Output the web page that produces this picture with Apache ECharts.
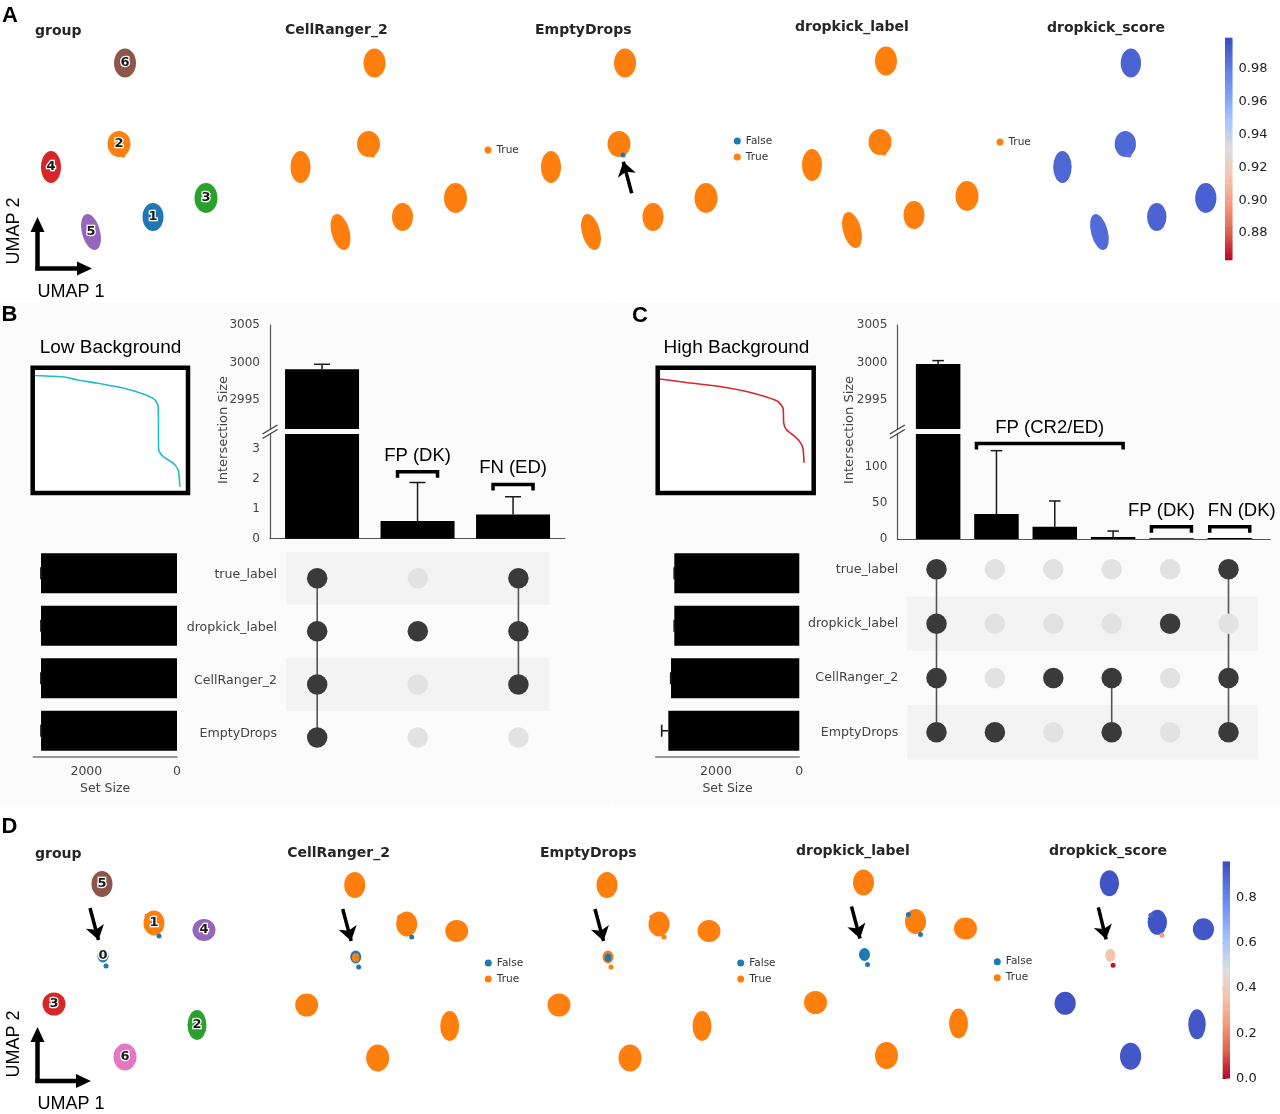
<!DOCTYPE html>
<html><head><meta charset="utf-8">
<script src="https://cdn.jsdelivr.net/npm/echarts@6/dist/echarts.min.js"></script>
<style>html,body{margin:0;padding:0;background:#fff}#c{width:1280px;height:1114px}</style>
</head><body><div id="c"></div><script>
// ================= DATA =================
// ---- Panel A : UMAP clusters (centres and spread, UMAP units) ----
const clustersA = ['1','2','3','4','5','6'];
const umap1A   = [12.3, 8.9, 17.6, 2.1, 6.1, 9.5];
const umap2A   = [4.3, 11.6, 6.2, 9.3, 2.8, 19.7];
const spread1A = [2.1, 2.3, 2.3, 2.0, 1.8, 2.2];
const spread2A = [2.8, 2.6, 3.0, 3.2, 3.7, 2.9];
const tiltA    = [0, 0, 0, 0, 15, 0];
const trueFracCR2A = [1, 1, 1, 1, 1, 1];
const trueFracEDA  = [1, 1, 1, 1, 1, 1];
const trueFracDKA  = [1, 1, 1, 1, 1, 1];
const scoreA       = [0.990, 0.988, 0.991, 0.989, 0.987, 0.990];
const cellU1A = [9.3];
const cellU2A = [10.5];
const cellGroupA = [1];
const cellCR2A = [true];
const cellEDA  = [false];
const cellDKA  = [true];
const cellScoreA = [0.985];
const scoreRangeA = [0.8636, 0.9988];
const scoreTicksA = [0.88, 0.90, 0.92, 0.94, 0.96, 0.98];

// ---- Panel D ----
const clustersD = ['0','1','2','3','4','5','6'];
const umap1D   = [7.3, 12.4, 16.7, 2.4, 17.4, 7.2, 9.5];
const umap2D   = [12.7, 16.0, 5.8, 7.9, 15.3, 19.9, 2.6];
const spread1D = [1.1, 2.1, 1.9, 2.3, 2.3, 2.1, 2.3];
const spread2D = [1.3, 2.5, 3.0, 2.3, 2.2, 2.6, 2.7];
const tiltD    = [0, 0, 0, 0, 0, 0, 0];
const trueFracCR2D = [0.45, 1, 1, 1, 1, 1, 1];
const trueFracEDD  = [0.6, 1, 1, 1, 1, 1, 1];
const trueFracDKD  = [0, 1, 1, 1, 1, 1, 1];
const scoreD       = [0.36, 0.94, 0.93, 0.94, 0.93, 0.94, 0.93];
const cellU1D = [7.6, 12.9, 11.7];
const cellU2D = [11.7, 14.7, 16.7];
const cellGroupD = [0, 0, 1];
const cellCR2D = [false, false, true];
const cellEDD  = [true, true, true];
const cellDKD  = [false, false, false];
const cellScoreD = [0.02, 0.25, 0.9];
const scoreRangeD = [0, 0.96];
const scoreTicksD = [0.0, 0.2, 0.4, 0.6, 0.8];

// ---- Panels B / C : UpSet ----
const setNames = ['true_label', 'dropkick_label', 'CellRanger_2', 'EmptyDrops'];
const setSizeTicks = [0, 2000];
const interTicksUpper = [2995, 3000, 3005];
const setSizeLow = [3000, 2999.7, 3000, 2999.1];
const setErrLow  = [3, 3, 3, 3];
const interLow   = [2999.1, 0.59, 0.81];
const interErrLow = [0.65, 1.28, 0.59];
const membersLow = [[1,1,1,1],[0,1,0,0],[1,1,1,0]];
const interTicksLowLower = [0, 1, 2, 3];
const annotLowText = ['FP (DK)', 'FN (ED)'];
const annotLowFrom = [1, 2];
const annotLowTo   = [1, 2];
const annotLowY    = [2.23, 1.81];
const kneeLowX = [1.3, 20.6, 28.2, 41.1, 58.3, 71.2, 78.7, 80.8, 81.1, 84.1, 90.5, 93.7, 94.8];
const kneeLowY = [93.8, 92.6, 90.4, 87.8, 83.8, 79.0, 74.4, 69.0, 34.4, 29.0, 23.8, 18.4, 5.0];
const setSizeHigh = [3001, 3001, 3080, 3145];
const setErrHigh  = [4, 4, 8, 159];
const interHigh   = [2999.8, 34.5, 17, 2.8, 1.0, 1.5];
const interErrHigh = [0.44, 87.5, 35.5, 8.2, 0, 0];
const membersHigh = [[1,1,1,1],[0,0,0,1],[0,0,1,0],[0,0,1,1],[0,1,0,0],[1,0,1,1]];
const interTicksHighLower = [0, 50, 100];
const annotHighText = ['FP (CR2/ED)', 'FP (DK)', 'FN (DK)'];
const annotHighFrom = [1, 4, 5];
const annotHighTo   = [3, 4, 5];
const annotHighY    = [132, 17, 17];
const kneeHighX = [1.3, 18.4, 39.7, 56.9, 69.7, 77.1, 80.3, 80.8, 82.5, 86.7, 91.0, 93.1, 93.8];
const kneeHighY = [91.0, 88.2, 85.0, 81.0, 76.6, 73.0, 67.8, 55.8, 50.4, 46.4, 41.0, 35.8, 24.2];

// ================= STYLE HELPERS =================
const TAB10 = ['#1f77b4','#ff7f0e','#2ca02c','#d62728','#9467bd','#8c564b','#e377c2','#7f7f7f','#bcbd22','#17becf'];
const ORANGE = '#ff7f0e', BLUE = '#1f77b4';
const MPL = 'DejaVu Sans', ARIAL = 'Liberation Sans';
const CW = [[0,[59,76,192]],[0.125,[90,122,227]],[0.25,[124,159,249]],[0.375,[170,199,253]],[0.5,[221,221,221]],[0.625,[245,196,173]],[0.75,[244,154,123]],[0.875,[222,96,77]],[1,[180,4,38]]];
function coolwarm(t){
  t = Math.max(0, Math.min(1, t));
  for (let i = 1; i < CW.length; i++) {
    if (t <= CW[i][0]) {
      const a = CW[i-1], b = CW[i], f = (t - a[0]) / (b[0] - a[0]);
      const c = a[1].map((v,k)=>Math.round(v + (b[1][k]-v)*f));
      return 'rgb(' + c.join(',') + ')';
    }
  }
  return 'rgb(180,4,38)';
}
function scoreColor(v, range){ return coolwarm(1 - (v - range[0]) / (range[1] - range[0])); }
const plain = v => String(Math.round(Number(v)));

const grid = [], xAxis = [], yAxis = [], series = [], legend = [], graphic = [];
function addGrid(box, xa, ya, extra){
  const gi = grid.length;
  grid.push(Object.assign({left:box.left, top:box.top, width:box.width, height:box.height, containLabel:false, outerBoundsMode:'none', show:false}, extra || {}));
  xAxis.push(Object.assign({gridIndex:gi, show:false, type:'value'}, xa));
  yAxis.push(Object.assign({gridIndex:gi, show:false, type:'value'}, ya));
  return gi;
}
function gtext(x, y, text, o){
  o = o || {};
  const al = o.align || 'left', va = o.va || 'middle';
  graphic.push({type:'text', x, y, rotation:o.rot || 0, silent:true, z:o.z || 20,
    style:{text, fill:o.color || '#000', fontSize:o.size || 13, fontWeight:o.weight || 'normal', fontFamily:o.family || MPL,
      align:al, textAlign:al, verticalAlign:va, textVerticalAlign:va}});
}
function gline(x1,y1,x2,y2,color,w){ graphic.push({type:'line', silent:true, z:20, shape:{x1,y1,x2,y2}, style:{stroke:color, lineWidth:w}}); }
function gpoly(points, color){ graphic.push({type:'polygon', silent:true, z:20, shape:{points}, style:{fill:color}}); }
function grect(x,y,w,h,color,z){ graphic.push({type:'rect', silent:true, z:z, shape:{x,y,width:w,height:h}, style:{fill:color}}); }
const axBase = {show:true, axisLine:{show:true, onZero:false, lineStyle:{color:'#555', width:1.2}}, axisTick:{show:false}, splitLine:{show:false}, axisLabel:{show:false}};

grect(0, 303, 612, 503, '#fbfbfb', 0);
grect(613, 303, 667, 503, '#fbfbfb', 0);

// ================= UMAP ROWS =================
function blobSeries(gi, items){
  return {type:'custom', xAxisIndex:gi, yAxisIndex:gi, z:6, silent:true,
    data: items.map(it => [it.x, it.y, it.sx, it.sy]),
    renderItem(params, api){
      const it = items[params.dataIndex];
      const c = api.coord([api.value(0), api.value(1)]);
      const s = api.size([api.value(2), api.value(3)]);
      const rx = s[0]/2, ry = s[1]/2;
      const rot = (it.rot || 0) * Math.PI / 180;
      const ch = [{type:'circle', x:c[0], y:c[1], rotation:rot, scaleX:rx/ry, shape:{cx:0, cy:0, r:ry}, style:{fill:it.color, stroke:null}}];
      if (it.minor) {
        const k = Math.sqrt(it.minorFrac);
        ch.push({type:'circle', x:c[0], y:c[1] + ry*0.1, scaleX:rx/ry, shape:{cx:0, cy:0, r:ry*k}, style:{fill:it.minor, stroke:null}});
      }
      if (it.label != null) {
        ch.push({type:'text', x:c[0], y:c[1], style:{text:it.label, align:'center', textAlign:'center', verticalAlign:'middle', textVerticalAlign:'middle',
          fontSize:13, fontWeight:'bold', fontFamily:MPL, fill:'#1a1a1a', stroke:'#fff', lineWidth:2.5}});
      }
      return {type:'group', children:ch};
    }};
}
function buildUmapRow(R, panels, cbar){
  panels.forEach(p => {
    const gi = addGrid({left:p.left, top:p.top, width:p.w, height:220}, {min:0, max:20}, {min:0, max:22});
    gtext(p.left + p.tdx, p.ty, p.title, {size:14, weight:'bold', color:'#262626'});
    const items = R.clusters.map((c, i) => {
      const it = {x:R.u1[i], y:R.u2[i], sx:R.s1[i], sy:R.s2[i], rot:R.tilt[i]};
      if (p.kind === 'group') { it.color = TAB10[i]; it.label = c; }
      else if (p.kind === 'score') { it.color = scoreColor(p.score[i], R.range); }
      else {
        const f = p.frac[i];
        it.color = f >= 0.5 ? ORANGE : BLUE;
        const mf = f >= 0.5 ? 1 - f : f;
        if (mf > 0) { it.minor = f >= 0.5 ? BLUE : ORANGE; it.minorFrac = mf; }
      }
      return it;
    });
    series.push(blobSeries(gi, items));
    if (p.kind === 'label') {
      [['False', false, BLUE], ['True', true, ORANGE]].forEach(([nm, flag, col]) => {
        series.push({type:'scatter', name:nm, xAxisIndex:gi, yAxisIndex:gi, z:7, symbol:'circle', symbolSize:5, silent:true,
          itemStyle:{color:col, opacity:1},
          data: R.cellU1.map((x, j) => p.cellLab[j] === flag ? [x, R.cellU2[j]] : null).filter(Boolean)});
      });
      legend.push({left:p.lx, top:p.ly, orient:'vertical', data:p.legend, icon:'circle', itemWidth:7, itemHeight:7, itemGap:4,
        selectedMode:false, padding:0, textStyle:{fontSize:10.5, color:'#333', fontFamily:MPL, lineHeight:12}});
    } else {
      series.push({type:'scatter', xAxisIndex:gi, yAxisIndex:gi, z:7, symbol:'circle', symbolSize:5, silent:true,
        data: R.cellU1.map((x, j) => ({value:[x, R.cellU2[j]], itemStyle:{opacity:1,
          color: p.kind === 'group' ? TAB10[R.cellGroup[j]] : scoreColor(p.cellScore[j], R.range)}}))});
    }
    if (p.arrow) {
      series.push({type:'lines', coordinateSystem:'cartesian2d', xAxisIndex:gi, yAxisIndex:gi, z:8, silent:true,
        symbol:['none','arrow'], symbolSize:[12,14], lineStyle:{color:'#000', width:3.5, opacity:1},
        data:[{coords:[p.arrow.from, p.arrow.to]}]});
    }
  });
  // colour bar drawn as thin solid steps along the score axis
  const N = 90, lo = R.range[0], hi = R.range[1], steps = [];
  for (let i = 0; i < N; i++) steps.push([0.5, lo + (hi - lo) * i / N, lo + (hi - lo) * (i + 1) / N]);
  const gc = addGrid(cbar, {min:0, max:1}, {show:true, min:lo, max:hi, position:'right',
    axisLine:{show:false}, splitLine:{show:false},
    axisTick:{show:true, length:3.5, lineStyle:{color:'#222'}, customValues:R.ticks},
    axisLabel:{show:true, customValues:R.ticks, formatter:v => Number(v).toFixed(R.digits), color:'#222', fontSize:13, margin:6, fontFamily:MPL}});
  series.push({type:'custom', xAxisIndex:gc, yAxisIndex:gc, silent:true, z:2, data:steps,
    renderItem(params, api){
      const cs = params.coordSys;
      const v0 = api.value(1), v1 = api.value(2);
      const t = api.coord([0.5, v1])[1], b = api.coord([0.5, v0])[1];
      return {type:'rect', shape:{x:cs.x, y:t - 0.3, width:cs.width, height:b - t + 0.6},
        style:{fill:scoreColor((v0 + v1) / 2, R.range), stroke:null}};
    }});
}

buildUmapRow({clusters:clustersA, u1:umap1A, u2:umap2A, s1:spread1A, s2:spread2A, tilt:tiltA,
  cellU1:cellU1A, cellU2:cellU2A, cellGroup:cellGroupA, range:scoreRangeA, ticks:scoreTicksA, digits:2}, [
  {kind:'group', title:'group', left:30, top:40, w:200, tdx:5, ty:31},
  {kind:'label', title:'CellRanger_2', left:279.5, top:40, w:200, tdx:5.5, ty:30, frac:trueFracCR2A, cellLab:cellCR2A, legend:['True'], lx:484.5, ly:144},
  {kind:'label', title:'EmptyDrops', left:530, top:40, w:200, tdx:5, ty:30, frac:trueFracEDA, cellLab:cellEDA, legend:['False','True'], lx:733.8, ly:135,
    arrow:{from:[10.17, 6.67], to:[9.33, 9.83]}},
  {kind:'label', title:'dropkick_label', left:791, top:38, w:200, tdx:4, ty:27.5, frac:trueFracDKA, cellLab:cellDKA, legend:['True'], lx:996.5, ly:136},
  {kind:'score', title:'dropkick_score', left:1043, top:40, w:185, tdx:4, ty:28.5, score:scoreA, cellScore:cellScoreA}
], {left:1225, top:38, width:7.5, height:222});

const arrowD = {from:[6.0, 17.5], to:[6.85, 14.3]};
buildUmapRow({clusters:clustersD, u1:umap1D, u2:umap2D, s1:spread1D, s2:spread2D, tilt:tiltD,
  cellU1:cellU1D, cellU2:cellU2D, cellGroup:cellGroupD, range:scoreRangeD, ticks:scoreTicksD, digits:1}, [
  {kind:'group', title:'group', left:30, top:863, w:200, tdx:5, ty:854, arrow:arrowD},
  {kind:'label', title:'CellRanger_2', left:282.7, top:864, w:200, tdx:4.5, ty:853, frac:trueFracCR2D, cellLab:cellCR2D, legend:['False','True'], lx:484.8, ly:957, arrow:arrowD},
  {kind:'label', title:'EmptyDrops', left:535, top:864, w:200, tdx:5, ty:853, frac:trueFracEDD, cellLab:cellEDD, legend:['False','True'], lx:737.2, ly:957, arrow:arrowD},
  {kind:'label', title:'dropkick_label', left:791.5, top:861.5, w:200, tdx:4.5, ty:851.5, frac:trueFracDKD, cellLab:cellDKD, legend:['False','True'], lx:993.8, ly:955.7, arrow:arrowD},
  {kind:'score', title:'dropkick_score', left:1043, top:862.3, w:184.4, tdx:6, ty:851.5, score:scoreD, cellScore:cellScoreD, arrow:arrowD}
], {left:1222.7, top:861.7, width:7.3, height:216.6});

function umapArrows(cx, cy, tipUp, tipRight, lab2y, lab1y){
  gline(cx, cy + 2, cx, tipUp + 14, '#000', 4.5);
  gpoly([[cx - 7, tipUp + 15], [cx + 7, tipUp + 15], [cx, tipUp]], '#000');
  gline(cx - 2, cy, tipRight - 14, cy, '#000', 4.5);
  gpoly([[tipRight - 15, cy - 7], [tipRight - 15, cy + 7], [tipRight, cy]], '#000');
  gtext(14, lab2y, 'UMAP 2', {size:18, family:ARIAL, align:'center', rot:Math.PI/2});
  gtext(71, lab1y, 'UMAP 1', {size:18, family:ARIAL, align:'center'});
}
umapArrows(37.5, 268.5, 217, 92, 231, 292);
umapArrows(37.5, 1081, 1027, 91, 1044, 1104);

// ================= UPSET PANELS =================
function vErr(gi, data, cap){
  return {type:'custom', xAxisIndex:gi, yAxisIndex:gi, clip:true, silent:true, z:3, data,
    renderItem(params, api){
      const lo = api.value(1), hi = api.value(2);
      if (!(hi > lo)) return null;
      const x = api.value(0);
      const a = api.coord([x, lo]), b = api.coord([x, hi]);
      const st = {stroke:'#1a1a1a', lineWidth:1.5};
      return {type:'group', children:[
        {type:'line', shape:{x1:a[0], y1:a[1], x2:b[0], y2:b[1]}, style:st},
        {type:'line', shape:{x1:b[0] - cap/2, y1:b[1], x2:b[0] + cap/2, y2:b[1]}, style:st}]};
    }};
}
function hErr(gi, data){
  return {type:'custom', xAxisIndex:gi, yAxisIndex:gi, silent:true, z:3, data,
    renderItem(params, api){
      const r = api.value(1);
      const a = api.coord([api.value(0), r]), b = api.coord([api.value(2), r]);
      const st = {stroke:'#1a1a1a', lineWidth:1.6};
      return {type:'group', children:[
        {type:'line', shape:{x1:a[0], y1:a[1], x2:b[0], y2:b[1]}, style:st},
        {type:'line', shape:{x1:b[0], y1:b[1] - 6, x2:b[0], y2:b[1] + 6}, style:st}]};
    }};
}
function buildUpset(S, L){
  const yLab = {show:true, color:'#444', fontSize:12, fontFamily:MPL, margin:10, formatter:plain};
  const barData = S.inter.map((v, i) => [i, v]);
  const errData = S.inter.map((v, i) => [i, v, v + S.err[i]]);
  const gu = addGrid(L.upper, {min:L.xr[0], max:L.xr[1]},
    Object.assign({}, axBase, {min:L.upperY[0], max:L.upperY[1], axisLabel:Object.assign({customValues:interTicksUpper}, yLab)}));
  series.push({type:'bar', xAxisIndex:gu, yAxisIndex:gu, data:barData, barWidth:L.barW, clip:true, silent:true, itemStyle:{color:'#000'}});
  series.push(vErr(gu, errData, L.capW));
  const gl = addGrid(L.lower, Object.assign({}, axBase, {min:L.xr[0], max:L.xr[1]}),
    Object.assign({}, axBase, {min:L.lowerY[0], max:L.lowerY[1], axisLabel:Object.assign({customValues:S.lowerTicks}, yLab)}));
  series.push({type:'bar', xAxisIndex:gl, yAxisIndex:gl, data:barData, barWidth:L.barW, clip:true, silent:true, itemStyle:{color:'#000'}});
  series.push(vErr(gl, errData, L.capW));
  series.push({type:'custom', xAxisIndex:gl, yAxisIndex:gl, silent:true, z:5,
    data:S.aText.map((t, i) => [S.aFrom[i], S.aY[i], S.aTo[i]]),
    renderItem(params, api){
      const i = params.dataIndex;
      const p1 = api.coord([api.value(0), api.value(1)]), p2 = api.coord([api.value(2), api.value(1)]);
      const xl = p1[0] - 20, xr = p2[0] + L.aPadR[i], y = p1[1];
      return {type:'group', children:[
        {type:'polyline', shape:{points:[[xl, y + 6], [xl, y], [xr, y], [xr, y + 6]]}, style:{stroke:'#000', lineWidth:3.5, fill:null}},
        {type:'text', x:(xl + xr)/2 + (L.aDx[i] || 0), y:y - 16, style:{text:S.aText[i], align:'center', textAlign:'center',
          verticalAlign:'middle', textVerticalAlign:'middle', fontSize:18.5, fontFamily:ARIAL, fill:'#000'}}]};
    }});
  gline(L.breakX - 8, L.breakY + 6, L.breakX + 7, L.breakY - 3, '#444', 1.4);
  gline(L.breakX - 8, L.breakY + 10.5, L.breakX + 7, L.breakY + 1.5, '#444', 1.4);
  gtext(L.ylabelX, 430, 'Intersection Size', {size:13, color:'#444', align:'center', rot:Math.PI/2});
  const gs = addGrid(L.setGrid,
    Object.assign({}, axBase, {min:0, max:L.setMax, inverse:true,
      axisLine:{show:true, onZero:false, lineStyle:{color:'#777', width:1.6}},
      axisLabel:{show:true, customValues:setSizeTicks, color:'#444', fontSize:12.5, fontFamily:MPL, margin:8, formatter:plain},
      name:'Set Size', nameLocation:'middle', nameGap:25, nameTextStyle:{color:'#444', fontSize:12.5, fontFamily:MPL}}),
    {type:'category', data:setNames, inverse:true, show:false});
  series.push({type:'bar', xAxisIndex:gs, yAxisIndex:gs, data:S.setSize, barWidth:40, silent:true, itemStyle:{color:'#000'}});
  series.push(hErr(gs, S.setSize.map((v, i) => [v, i, v + S.setErr[i]])));
  const gm = addGrid(L.matGrid, {min:L.matX[0], max:L.matX[1]},
    {type:'category', data:setNames, inverse:true, show:true, axisLine:{show:false}, axisTick:{show:false}, splitLine:{show:false},
     axisLabel:{show:true, color:'#444', fontSize:12.6, fontFamily:MPL, margin:9, verticalAlign:L.labelVA, padding:L.labelPad}});
  series.push({type:'custom', xAxisIndex:gm, yAxisIndex:gm, silent:true, z:1, data:L.stripes.map(r => [0, r]),
    renderItem(params, api){
      const cs = params.coordSys;
      const band = api.size([0, 1])[1];
      const yc = api.coord([0, api.value(1)])[1];
      return {type:'rect', shape:{x:cs.x, y:yc - band/2, width:cs.width, height:band}, style:{fill:'#f3f3f3'}};
    }});
  const conn = [];
  S.members.forEach((m, i) => {
    const act = m.map((v, r) => v ? r : -1).filter(r => r >= 0);
    if (act.length > 1) conn.push([i, Math.min(...act), Math.max(...act)]);
  });
  series.push({type:'custom', xAxisIndex:gm, yAxisIndex:gm, silent:true, z:2, data:conn,
    renderItem(params, api){
      const a = api.coord([api.value(0), api.value(1)]), b = api.coord([api.value(0), api.value(2)]);
      return {type:'line', shape:{x1:a[0], y1:a[1], x2:b[0], y2:b[1]}, style:{stroke:'#555', lineWidth:1.6}};
    }});
  const dots = [];
  S.members.forEach((m, i) => m.forEach((v, r) => dots.push({value:[i, r], itemStyle:{opacity:1, color: v ? '#3a3a3a' : '#e2e2e2'}})));
  series.push({type:'scatter', xAxisIndex:gm, yAxisIndex:gm, silent:true, z:3, symbol:'circle', symbolSize:20.5, data:dots});
  const gk = addGrid(L.knee, {min:0, max:100}, {min:0, max:100}, {show:true, borderColor:'#000', borderWidth:4.5, backgroundColor:'#fff', z:1});
  series.push({type:'line', xAxisIndex:gk, yAxisIndex:gk, silent:true, z:3, data:S.kneeX.map((x, i) => [x, S.kneeY[i]]),
    showSymbol:false, symbol:'none', smooth:0.2, lineStyle:{color:L.kneeColor, width:1.6}});
  gtext(L.kneeTitleX, 348, L.kneeTitle, {size:19, family:ARIAL, align:'center'});
}

buildUpset(
  {setSize:setSizeLow, setErr:setErrLow, inter:interLow, err:interErrLow, members:membersLow, lowerTicks:interTicksLowLower,
   aText:annotLowText, aFrom:annotLowFrom, aTo:annotLowTo, aY:annotLowY, kneeX:kneeLowX, kneeY:kneeLowY},
  {upper:{left:270, top:325, width:295, height:104}, lower:{left:270, top:434, width:295, height:104.7},
   xr:[-0.545, 2.544], upperY:[2991.1, 3005], lowerY:[0, 3.49], barW:74, capW:16, aDx:[0, 0], aPadR:[20, 20],
   setGrid:{left:33.3, top:547, width:143.7, height:210}, setMax:3170,
   matGrid:{left:286, top:551.7, width:263.6, height:212.4}, matX:[-0.31, 2.31], labelVA:'bottom', labelPad:[0, 0, -3, 0], stripes:[0, 2],
   ylabelX:223.3, breakX:270.5, breakY:428,
   knee:{left:32.7, top:367.7, width:155.3, height:125.3}, kneeColor:'#22bccb', kneeTitle:'Low Background', kneeTitleX:110.5});
buildUpset(
  {setSize:setSizeHigh, setErr:setErrHigh, inter:interHigh, err:interErrHigh, members:membersHigh, lowerTicks:interTicksHighLower,
   aText:annotHighText, aFrom:annotHighFrom, aTo:annotHighTo, aY:annotHighY, kneeX:kneeHighX, kneeY:kneeHighY},
  {upper:{left:897.3, top:325, width:372.7, height:104}, lower:{left:897.3, top:434, width:372.7, height:105},
   xr:[-0.70, 5.69], upperY:[2991.1, 3005], lowerY:[0, 145], barW:44.5, capW:11.5, aDx:[0, -10, 12], aPadR:[10, 20, 20],
   setGrid:{left:655.7, top:547, width:143.6, height:210}, setMax:3448,
   matGrid:{left:907.3, top:542.2, width:350.4, height:217.2}, matX:[-0.5, 5.5], labelVA:'middle', labelPad:[4, 0, 0, 0], stripes:[1, 3],
   ylabelX:849.3, breakX:897.8, breakY:428,
   knee:{left:657.7, top:367.7, width:156, height:125.3}, kneeColor:'#d62728', kneeTitle:'High Background', kneeTitleX:736.5});

gtext(10, 16, 'A', {size:22, weight:'bold', family:ARIAL, align:'center'});
gtext(9.5, 315, 'B', {size:22, weight:'bold', family:ARIAL, align:'center'});
gtext(640, 315.5, 'C', {size:22, weight:'bold', family:ARIAL, align:'center'});
gtext(9.5, 827, 'D', {size:22, weight:'bold', family:ARIAL, align:'center'});

const chart = echarts.init(document.getElementById('c'), null, {renderer:'canvas'});
chart.setOption({animation:false, backgroundColor:'#fff', grid, xAxis, yAxis, series, legend, graphic});
</script></body></html>
